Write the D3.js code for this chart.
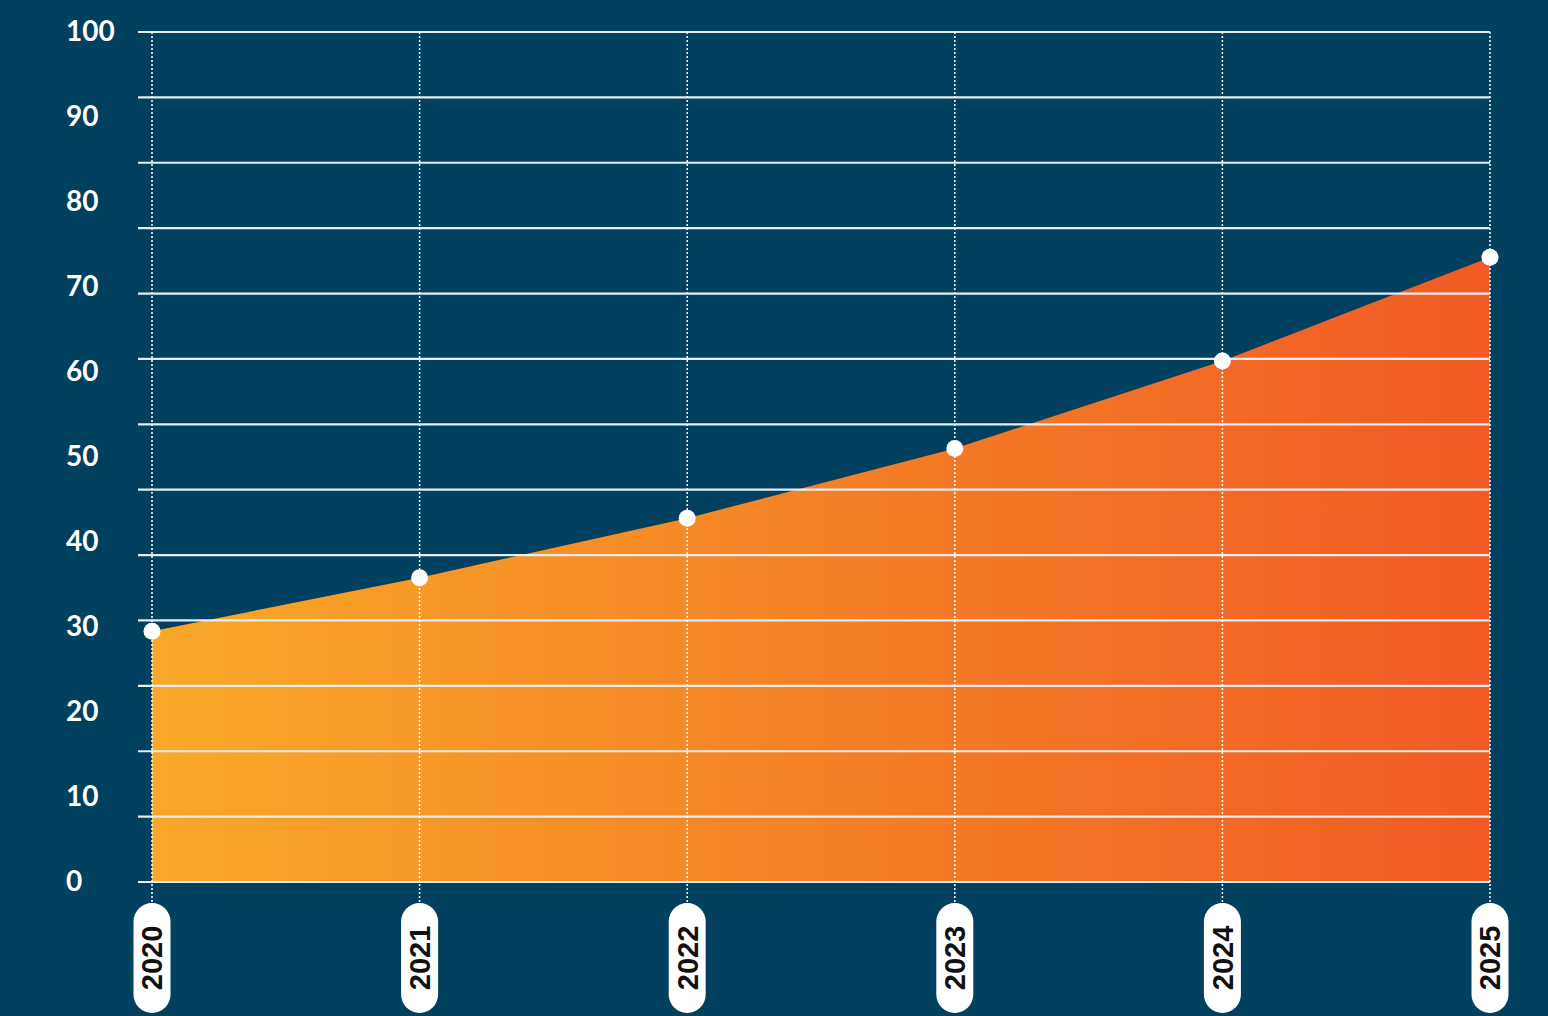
<!DOCTYPE html>
<html>
<head>
<meta charset="utf-8">
<script src="https://cdn.jsdelivr.net/npm/d3@7.9.0/dist/d3.min.js"></script>
<style>
  html, body { margin: 0; padding: 0; background: #01405e; overflow: hidden; }
</style>
</head>
<body>
<div id="chart"></div>
<script>
// data
const years = ['2020', '2021', '2022', '2023', '2024', '2025'];
const values = [29.5, 35.8, 42.8, 51.0, 61.3, 73.5];
const yTickLabels = [0, 10, 20, 30, 40, 50, 60, 70, 80, 90, 100];

const width = 1548;
const height = 1016;
const margin = { top: 32, right: 58, bottom: 134, left: 152 };

const svg = d3.select('#chart')
  .append('svg')
  .attr('width', width)
  .attr('height', height);

const xScale = d3.scalePoint()
  .domain(years)
  .range([margin.left, width - margin.right]);

const yScale = d3.scaleLinear()
  .domain([0, 100])
  .range([height - margin.bottom, margin.top]);

// gradient for the area
const defs = svg.append('defs');
const grad = defs.append('linearGradient')
  .attr('id', 'areaGrad')
  .attr('gradientUnits', 'userSpaceOnUse')
  .attr('x1', xScale(years[0])).attr('x2', xScale(years[years.length - 1]))
  .attr('y1', 0).attr('y2', 0);
grad.append('stop').attr('offset', '0%').attr('stop-color', '#f9a828');
grad.append('stop').attr('offset', '100%').attr('stop-color', '#f15a24');

const rows = years.map((y, i) => ({ year: y, value: values[i] }));

// area
const area = d3.area()
  .x(d => xScale(d.year))
  .y0(yScale(0))
  .y1(d => yScale(d.value));

svg.append('path')
  .datum(rows)
  .attr('d', area)
  .attr('fill', 'url(#areaGrad)');

// horizontal gridlines (13 even bands, not tied to the labels)
const gridValues = d3.range(0, 14).map(i => i * 100 / 13);
svg.append('g')
  .attr('class', 'gridlines')
  .selectAll('line')
  .data(gridValues)
  .join('line')
  .attr('x1', margin.left - 14)
  .attr('x2', width - margin.right)
  .attr('y1', d => yScale(d))
  .attr('y2', d => yScale(d))
  .attr('stroke', '#e3edf2')
  .attr('stroke-width', 2.2);

// vertical dotted lines
svg.append('g')
  .selectAll('line')
  .data(years)
  .join('line')
  .attr('x1', d => xScale(d))
  .attr('x2', d => xScale(d))
  .attr('y1', yScale(100))
  .attr('y2', height - margin.bottom + 22)
  .attr('stroke', '#ffffff')
  .attr('stroke-width', 1.5)
  .attr('stroke-dasharray', '2,2');

// y labels
const yAxis = d3.axisLeft(yScale)
  .tickValues(yTickLabels)
  .tickSize(0)
  .tickPadding(0);

const yG = svg.append('g')
  .attr('transform', 'translate(66,0)')
  .call(yAxis);
yG.select('.domain').remove();
yG.selectAll('text')
  .attr('text-anchor', 'start')
  .attr('fill', '#ffffff')
  .style('font-family', 'Lato, "Open Sans", sans-serif')
  .style('font-weight', 700)
  .style('font-size', '28px');

// points
svg.append('g')
  .selectAll('circle')
  .data(rows)
  .join('circle')
  .attr('cx', d => xScale(d.year))
  .attr('cy', d => yScale(d.value))
  .attr('r', 8.5)
  .attr('fill', '#ffffff');

// x labels in pills
const pillW = 37;
const pillH = 110;
const pillTop = height - margin.bottom + 21;
const xLab = svg.append('g')
  .selectAll('g')
  .data(years)
  .join('g')
  .attr('transform', d => `translate(${xScale(d)},${pillTop})`);

xLab.append('rect')
  .attr('x', -pillW / 2)
  .attr('y', 0)
  .attr('width', pillW)
  .attr('height', pillH)
  .attr('rx', pillW / 2)
  .attr('fill', '#ffffff');

xLab.append('text')
  .attr('transform', `translate(0,${pillH / 2}) rotate(-90)`)
  .attr('text-anchor', 'middle')
  .attr('dy', '0.36em')
  .attr('fill', '#111111')
  .style('font-family', '"Liberation Sans", Arial, sans-serif')
  .style('font-weight', 700)
  .style('font-size', '29px')
  .text(d => d);
</script>
</body>
</html>
